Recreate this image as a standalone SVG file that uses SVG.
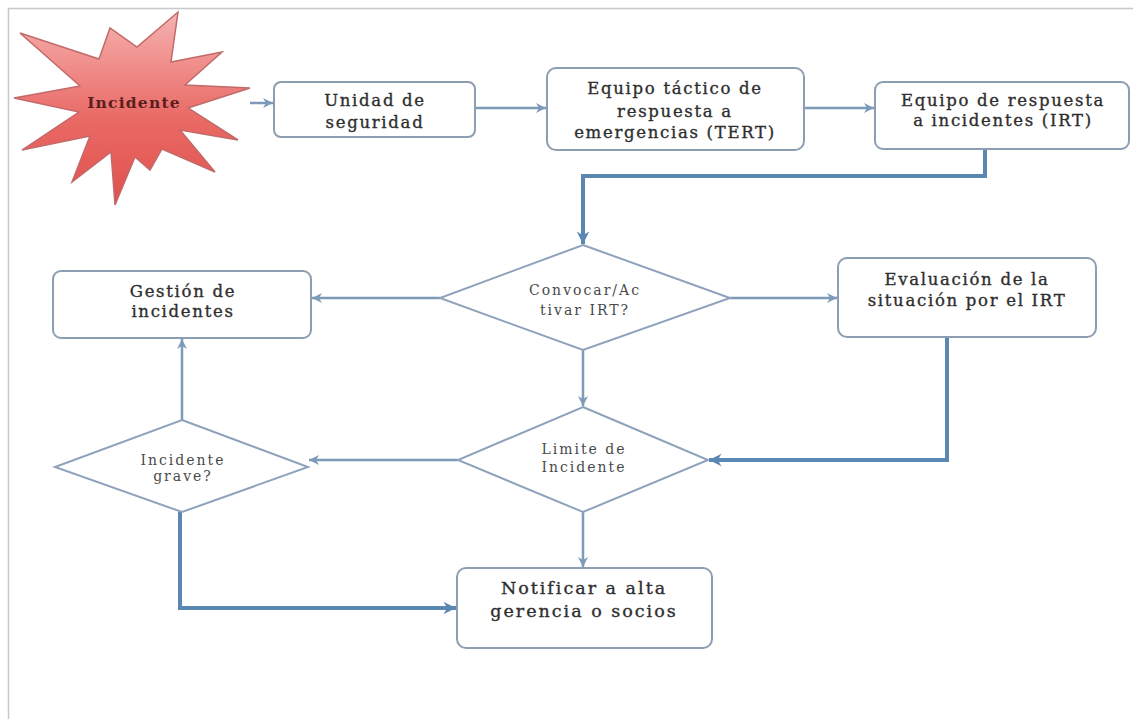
<svg xmlns="http://www.w3.org/2000/svg" width="1133" height="719" viewBox="0 0 1133 719">
  <style>
    .box { fill: #ffffff; stroke: #8d9db2; stroke-width: 2; }
    .dia { fill: #ffffff; stroke: #8ea3bb; stroke-width: 2; }
    .t { font-family: "DejaVu Serif", "Liberation Serif", serif; font-size: 16.5px; letter-spacing: 1.7px; fill: #2e2e2e; stroke: #2e2e2e; stroke-width: 0.35; text-anchor: middle; }
    .td { font-family: "DejaVu Serif", "Liberation Serif", serif; font-size: 14px; letter-spacing: 2px; fill: #4a4a4a; text-anchor: middle; }
    .tn { font-family: "DejaVu Serif", "Liberation Serif", serif; font-size: 17.5px; letter-spacing: 2px; fill: #2e2e2e; stroke: #2e2e2e; stroke-width: 0.35; text-anchor: middle; }
    .ts { font-family: "DejaVu Serif", "Liberation Serif", serif; font-size: 15.5px; font-weight: bold; letter-spacing: 1.2px; fill: #5a1e1e; text-anchor: middle; }
    .thin { fill: none; stroke: #7d9bb9; stroke-width: 2.5; marker-end: url(#arrow); }
    .thick { fill: none; stroke: #5b87b3; stroke-width: 4; marker-end: url(#arrowBig); }
  </style>
  <defs>
    <linearGradient id="starFill" x1="0" y1="0" x2="0" y2="1">
      <stop offset="0" stop-color="#f5b2b0"/>
      <stop offset="0.55" stop-color="#ea6a66"/>
      <stop offset="1" stop-color="#e0504c"/>
    </linearGradient>
    <marker id="arrow" viewBox="0 0 12 12" refX="11" refY="6" markerWidth="12" markerHeight="12" markerUnits="userSpaceOnUse" orient="auto">
      <path d="M1,1 L11,6 L1,11 L4,6 z" fill="#7d9bb9"/>
    </marker>
    <marker id="arrowBig" viewBox="0 0 12 12" refX="11" refY="6" markerWidth="15" markerHeight="15" markerUnits="userSpaceOnUse" orient="auto">
      <path d="M1,1 L11,6 L1,11 L4,6 z" fill="#5b87b3"/>
    </marker>
  </defs>

  <!-- page frame -->
  <rect x="8.5" y="8.5" width="1130" height="720" fill="#ffffff" stroke="#c8c8c8" stroke-width="1.5"/>

  <!-- connectors -->
  <g id="connectors">
    <path class="thin" d="M250,103 H273"/>
    <path class="thin" d="M475,108 H546"/>
    <path class="thin" d="M804,108 H874"/>
    <path class="thick" d="M985,149 V176 H583 V244"/>
    <path class="thin" d="M440,298 H312"/>
    <path class="thin" d="M730,298 H837"/>
    <path class="thin" d="M583,350 V406"/>
    <path class="thick" d="M947,337 V460 H709"/>
    <path class="thin" d="M458,460 H309"/>
    <path class="thin" d="M182,420 V339"/>
    <path class="thin" d="M583,512 V567"/>
    <path class="thick" d="M180,512 V608 H456"/>
  </g>

  <!-- start event -->
  <g id="incidente">
    <polygon fill="url(#starFill)" stroke="#c26a6a" stroke-width="1.5"
      points="20,33 99,59 110,28 137,47 178,12 171,62 222,52 185,85 250,88 188,108 238,140 180,130 215,172 162,149 150,170 135,157 115,205 111,152 72,182 90,136 22,150 79,112 14,98 80,86"/>
    <text class="ts" x="134" y="108">Incidente</text>
  </g>

  <g id="unidad-seguridad">
    <rect class="box" x="274" y="82" width="201" height="55" rx="7"/>
    <text class="t" x="375" y="106">Unidad de</text>
    <text class="t" x="375" y="128">seguridad</text>
  </g>

  <g id="tert">
    <rect class="box" x="547" y="68" width="257" height="82" rx="9"/>
    <text class="t" x="675" y="94">Equipo táctico de</text>
    <text class="t" x="675" y="117">respuesta a</text>
    <text class="t" x="675" y="138">emergencias (TERT)</text>
  </g>

  <g id="irt">
    <rect class="box" x="875" y="82" width="254" height="67" rx="8"/>
    <text class="t" x="1003" y="106">Equipo de respuesta</text>
    <text class="t" x="1003" y="126">a incidentes (IRT)</text>
  </g>

  <g id="convocar">
    <polygon class="dia" points="583,245 730,298 583,350 440,298"/>
    <text class="td" x="585" y="295">Convocar/Ac</text>
    <text class="td" x="585" y="315">tivar IRT?</text>
  </g>

  <g id="gestion">
    <rect class="box" x="53" y="271" width="258" height="67" rx="8"/>
    <text class="t" x="183" y="297">Gestión de</text>
    <text class="t" x="183" y="317">incidentes</text>
  </g>

  <g id="evaluacion">
    <rect class="box" x="838" y="258" width="258" height="79" rx="9"/>
    <text class="t" x="967" y="285">Evaluación de la</text>
    <text class="t" x="967" y="306">situación por el IRT</text>
  </g>

  <g id="limite">
    <polygon class="dia" points="583,407 708,460 583,512 458,460"/>
    <text class="td" x="584" y="454">Limite de</text>
    <text class="td" x="584" y="472">Incidente</text>
  </g>

  <g id="grave">
    <polygon class="dia" points="182,420 308,467 182,512 55,467"/>
    <text class="td" x="183" y="465">Incidente</text>
    <text class="td" x="183" y="481">grave?</text>
  </g>

  <g id="notificar">
    <rect class="box" x="457" y="568" width="255" height="80" rx="9"/>
    <text class="tn" x="584" y="594">Notificar a alta</text>
    <text class="tn" x="584" y="617">gerencia o socios</text>
  </g>
</svg>
